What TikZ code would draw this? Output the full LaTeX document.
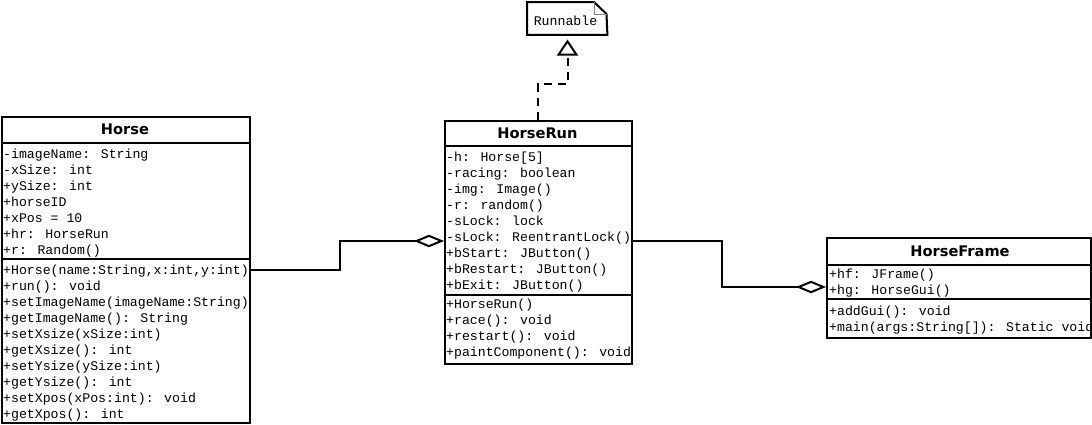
\documentclass[tikz,border=0pt]{standalone}
\usepackage{fontspec}
\newfontfamily\monofont{Liberation Mono}
\newfontfamily\headfont{DejaVu Sans}
\usetikzlibrary{arrows.meta}
\begin{document}
\begin{tikzpicture}[x=1pt,y=-1pt,
  classbox/.style={draw, line width=2pt, fill=white, anchor=north west, inner sep=0pt},
  member/.style={anchor=base west, inner sep=0pt, font=\monofont\fontsize{13.2}{16}\selectfont},
  classtitle/.style={inner sep=0pt, font=\headfont\bfseries\fontsize{14.6}{17}\selectfont},
  sepline/.style={line width=2pt},
  agg/.style={line width=2pt, -{Diamond[fill=white, length=30pt, width=12.5pt, line width=2pt]}},
  realize/.style={line width=2pt, dash pattern=on 8pt off 6pt,
    -{Triangle[open, fill=white, length=16pt, width=21pt, line width=2pt]}},
  notebox/.style={inner sep=0pt, minimum width=80pt, minimum height=32.5pt, anchor=north west}
]
\useasboundingbox (0,0) rectangle (1092,424);
\fill[white] (0,0) rectangle (1092,424);

% ---------- Runnable note ----------
\node[notebox] (runnable) at (527,2) {};
\draw[line width=2pt, line join=miter] (runnable.north west) -- (594,2) -- (606.5,14) -- (runnable.south east) -- (runnable.south west) -- cycle;
\draw[line width=0.8pt, gray] (594,2) -- (594,14) -- (606.5,14);
\node[inner sep=0pt, font=\monofont\fontsize{13.2}{16}\selectfont] (runnableT) at (565.5,20.5) {Runnable};
\coordinate (tip) at (567.5,39.5);

% ---------- Horse ----------
\node[classbox, minimum width=248pt, minimum height=306pt] (horse) at (1,116) {};
\node[classtitle] (horseT) at (125,129.5) {Horse};
\draw[sepline] (horse.west |- 0,143) -- (horse.east |- 0,143);
\draw[sepline] (horse.west |- 0,259) -- (horse.east |- 0,259);
\foreach \t [count=\i from 0] in {-imageName: String,-xSize: int,+ySize: int,+horseID,+xPos = 10,+hr: HorseRun,+r: Random()}
  \node[member] (ha\i) at (3,158+16*\i) {\t};
\foreach \t [count=\i from 0] in {{+Horse(name:String,x:int,y:int)},+run(): void,+setImageName(imageName:String),+getImageName(): String,+setXsize(xSize:int),+getXsize(): int,+setYsize(ySize:int),+getYsize(): int,+setXpos(xPos:int): void,+getXpos(): int}
  \node[member] (hm\i) at (3,274.3+16*\i) {\t};

% ---------- HorseRun ----------
\node[classbox, minimum width=187pt, minimum height=242.5pt] (hr) at (444,120) {};
\node[classtitle] (hrT) at (537.5,133) {HorseRun};
\draw[sepline] (hr.west |- 0,146) -- (hr.east |- 0,146);
\draw[sepline] (hr.west |- 0,295) -- (hr.east |- 0,295);
\foreach \t [count=\i from 0] in {{-h: Horse[5]},-racing: boolean,-img: Image(),-r: random(),-sLock: lock,-sLock: ReentrantLock(),+bStart: JButton(),+bRestart: JButton(),+bExit: JButton()}
  \node[member] (hra\i) at (446,161.2+16*\i) {\t};
\foreach \t [count=\i from 0] in {+HorseRun(),+race(): void,+restart(): void,+paintComponent(): void}
  \node[member] (hrm\i) at (446,308.8+15.8*\i) {\t};

% ---------- HorseFrame ----------
\node[classbox, minimum width=264pt, minimum height=100pt] (hf) at (826,237) {};
\node[classtitle] (hfT) at (960,251) {HorseFrame};
\draw[sepline] (hf.west |- 0,265) -- (hf.east |- 0,265);
\draw[sepline] (hf.west |- 0,299) -- (hf.east |- 0,299);
\begin{scope}
  \clip (827,266) rectangle (1089,336);
  \node[member] (hfa0) at (829,278.3) {+hf: JFrame()};
  \node[member] (hfa1) at (829,294.5) {+hg: HorseGui()};
  \node[member] (hfm0) at (829,315) {+addGui(): void};
  \node[member] (hfm1) at (829,331.2) {{+main(args:String[]): Static void}};
\end{scope}

% ---------- connectors ----------
\draw[realize] (hr.north -| 538,0) |- (567.5,84.3) -- (tip);
\draw[agg] (horse.east |- 0,270) -| (340,241) -- (hr.west |- 0,241);
\draw[agg] (hr.east |- 0,241) -| (722,287) -- (hf.west |- 0,287);
\end{tikzpicture}
\end{document}
